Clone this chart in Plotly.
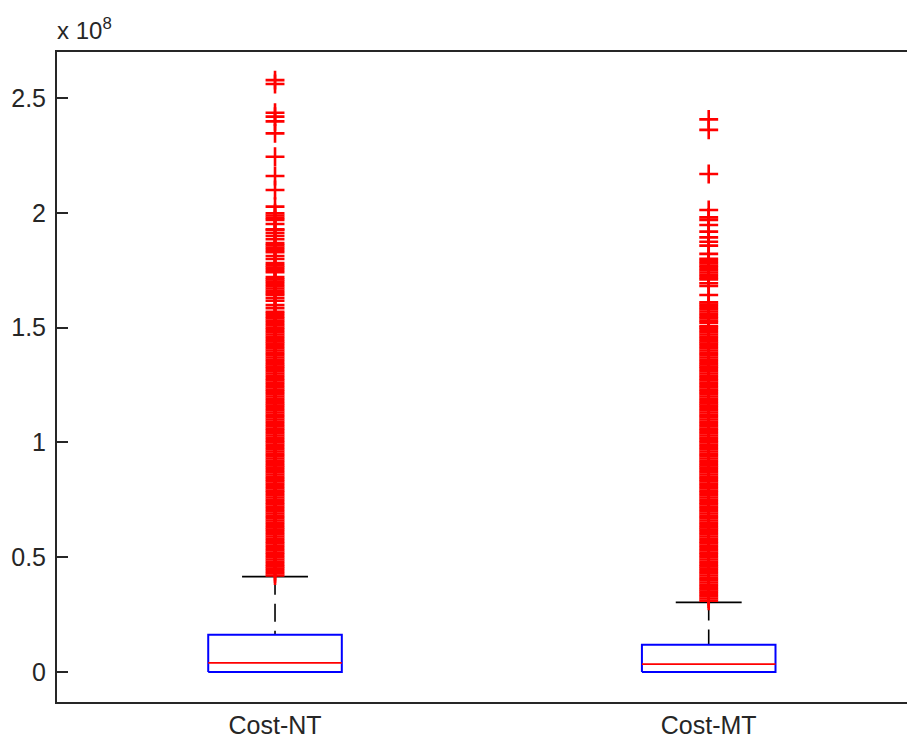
import plotly.graph_objects as go

# ---- data (values in units of 1e8) ----
categories = ["Cost-NT", "Cost-MT"]
positions = [1, 2]
q1 = [0.0005, 0.0005]
median = [0.040, 0.034]
q3 = [0.162, 0.119]
lower_whisker = [0.0, 0.0]
upper_whisker = [0.415, 0.303]

nt_outliers = [
    2.578, 2.561, 2.436, 2.419, 2.398, 2.346, 2.244, 2.160, 2.099, 2.027,
    1.998, 1.988, 1.978, 1.969, 1.951, 1.928, 1.925, 1.912, 1.899, 1.885,
    1.868, 1.858, 1.848, 1.838, 1.828, 1.812, 1.799,
    1.781, 1.771, 1.761, 1.751, 1.741,
    1.720, 1.710, 1.700, 1.690, 1.680, 1.670, 1.660, 1.650, 1.642,
    1.629, 1.617, 1.598, 1.584, 1.569,
    1.56, 1.55, 1.54, 1.53, 1.52, 1.51, 1.50, 1.49, 1.48, 1.47,
    1.46, 1.45, 1.44, 1.43, 1.42, 1.41, 1.40, 1.39, 1.38, 1.37,
    1.36, 1.35, 1.34, 1.33, 1.32, 1.31, 1.30, 1.29, 1.28, 1.27,
    1.26, 1.25, 1.24, 1.23, 1.22, 1.21, 1.20, 1.19, 1.18, 1.17,
    1.16, 1.15, 1.14, 1.13, 1.12, 1.11, 1.10, 1.09, 1.08, 1.07,
    1.06, 1.05, 1.04, 1.03, 1.02, 1.01, 1.00, 0.99, 0.98, 0.97,
    0.96, 0.95, 0.94, 0.93, 0.92, 0.91, 0.90, 0.89, 0.88, 0.87,
    0.86, 0.85, 0.84, 0.83, 0.82, 0.81, 0.80, 0.79, 0.78, 0.77,
    0.76, 0.75, 0.74, 0.73, 0.72, 0.71, 0.70, 0.69, 0.68, 0.67,
    0.66, 0.65, 0.64, 0.63, 0.62, 0.61, 0.60, 0.59, 0.58, 0.57,
    0.56, 0.55, 0.54, 0.53, 0.52, 0.51, 0.50, 0.49, 0.48, 0.47,
    0.46, 0.45, 0.44, 0.43, 0.42,
]

mt_outliers = [
    2.407, 2.361, 2.169, 2.012, 1.980, 1.969, 1.947, 1.918, 1.893, 1.874,
    1.857, 1.821,
    1.80, 1.79, 1.78, 1.77, 1.76, 1.75, 1.74, 1.73, 1.72, 1.71,
    1.693, 1.681, 1.642,
    1.61, 1.60, 1.59, 1.58, 1.57, 1.56, 1.55, 1.54, 1.53,
    1.521, 1.507,
    1.50, 1.49, 1.48, 1.47, 1.46, 1.45, 1.44, 1.43, 1.42, 1.41,
    1.40, 1.39, 1.38, 1.37, 1.36, 1.35, 1.34, 1.33, 1.32, 1.31,
    1.30, 1.29, 1.28, 1.27, 1.26, 1.25, 1.24, 1.23, 1.22, 1.21,
    1.20, 1.19, 1.18, 1.17, 1.16, 1.15, 1.14, 1.13, 1.12, 1.11,
    1.10, 1.09, 1.08, 1.07, 1.06, 1.05, 1.04, 1.03, 1.02, 1.01,
    1.00, 0.99, 0.98, 0.97, 0.96, 0.95, 0.94, 0.93, 0.92, 0.91,
    0.90, 0.89, 0.88, 0.87, 0.86, 0.85, 0.84, 0.83, 0.82, 0.81,
    0.80, 0.79, 0.78, 0.77, 0.76, 0.75, 0.74, 0.73, 0.72, 0.71,
    0.70, 0.69, 0.68, 0.67, 0.66, 0.65, 0.64, 0.63, 0.62, 0.61,
    0.60, 0.59, 0.58, 0.57, 0.56, 0.55, 0.54, 0.53, 0.52, 0.51,
    0.50, 0.49, 0.48, 0.47, 0.46, 0.45, 0.44, 0.43, 0.42, 0.41,
    0.40, 0.39, 0.38, 0.37, 0.36, 0.35, 0.34, 0.33, 0.32, 0.31,
]
outliers = [nt_outliers, mt_outliers]

y_tick_vals = [0, 0.5, 1, 1.5, 2, 2.5]
y_tick_text = ["0", "0.5", "1", "1.5", "2", "2.5"]

# ---- styling constants ----
BOX_HW = 0.154   # half width of box (x units)
CAP_HW = 0.076   # half width of whisker caps
FONT = "Liberation Sans, Arial, Helvetica, sans-serif"
AXIS_COLOR = "#262626"
TEXT_COLOR = "#262626"

fig = go.Figure()

for i, xc in enumerate(positions):
    # lower whisker + cap (drawn first, hidden by box)
    fig.add_trace(go.Scatter(
        x=[xc, xc], y=[q1[i], lower_whisker[i]], mode="lines",
        line=dict(color="black", width=1.6, dash="18px,9px"),
        showlegend=False, hoverinfo="skip"))
    fig.add_trace(go.Scatter(
        x=[xc - CAP_HW, xc + CAP_HW], y=[lower_whisker[i]] * 2, mode="lines",
        line=dict(color="black", width=1.6),
        showlegend=False, hoverinfo="skip"))
    # upper whisker (dashed, from cap down to q3)
    fig.add_trace(go.Scatter(
        x=[xc, xc], y=[upper_whisker[i], q3[i]], mode="lines",
        line=dict(color="black", width=1.6, dash="18px,9px"),
        showlegend=False, hoverinfo="skip"))
    # upper cap
    fig.add_trace(go.Scatter(
        x=[xc - CAP_HW, xc + CAP_HW], y=[upper_whisker[i]] * 2, mode="lines",
        line=dict(color="black", width=1.8),
        showlegend=False, hoverinfo="skip"))
    # box
    fig.add_trace(go.Scatter(
        x=[xc - BOX_HW, xc + BOX_HW, xc + BOX_HW, xc - BOX_HW, xc - BOX_HW],
        y=[q1[i], q1[i], q3[i], q3[i], q1[i]], mode="lines",
        line=dict(color="#0000ff", width=2),
        showlegend=False, hoverinfo="skip"))
    # median
    fig.add_trace(go.Scatter(
        x=[xc - BOX_HW, xc + BOX_HW], y=[median[i]] * 2, mode="lines",
        line=dict(color="#ff0000", width=1.8),
        showlegend=False, hoverinfo="skip"))
    # outliers
    fig.add_trace(go.Scatter(
        x=[xc] * len(outliers[i]), y=outliers[i], mode="markers",
        marker=dict(symbol="cross-thin", size=13.5,
                    line=dict(color="#ff0000", width=2.6)),
        showlegend=False, hoverinfo="skip"))

# The page body adds an 8px offset; the axes box runs past the right edge
# of the window (as in the cropped original).
fig.update_layout(
    width=915, height=732,
    margin=dict(l=49, r=0, t=44, b=38, autoexpand=False),
    paper_bgcolor="white", plot_bgcolor="white",
    font=dict(family=FONT, size=25, color=TEXT_COLOR),
    xaxis=dict(
        range=[0.4973, 2.4941], tickvals=positions, ticktext=categories,
        showgrid=False, zeroline=False, ticks="",
        showline=True, linecolor=AXIS_COLOR, linewidth=2, mirror=True,
        tickfont=dict(size=25), automargin=False,
    ),
    yaxis=dict(
        range=[-0.1307, 2.7003], tickvals=y_tick_vals, ticktext=y_tick_text,
        showgrid=False, zeroline=False,
        ticks="inside", ticklen=11, tickwidth=1.5, tickcolor=AXIS_COLOR,
        showline=True, linecolor=AXIS_COLOR, linewidth=2, mirror=False,
        tickfont=dict(size=25), automargin=False, ticklabelstandoff=4,
    ),
    annotations=[dict(
        text="x 10<sup>8</sup>", xref="paper", yref="paper",
        x=0, y=1, xanchor="left", yanchor="bottom", yshift=6, xshift=-2,
        showarrow=False, font=dict(family=FONT, size=24, color=TEXT_COLOR),
    )],
)

fig.write_html("out.html")
